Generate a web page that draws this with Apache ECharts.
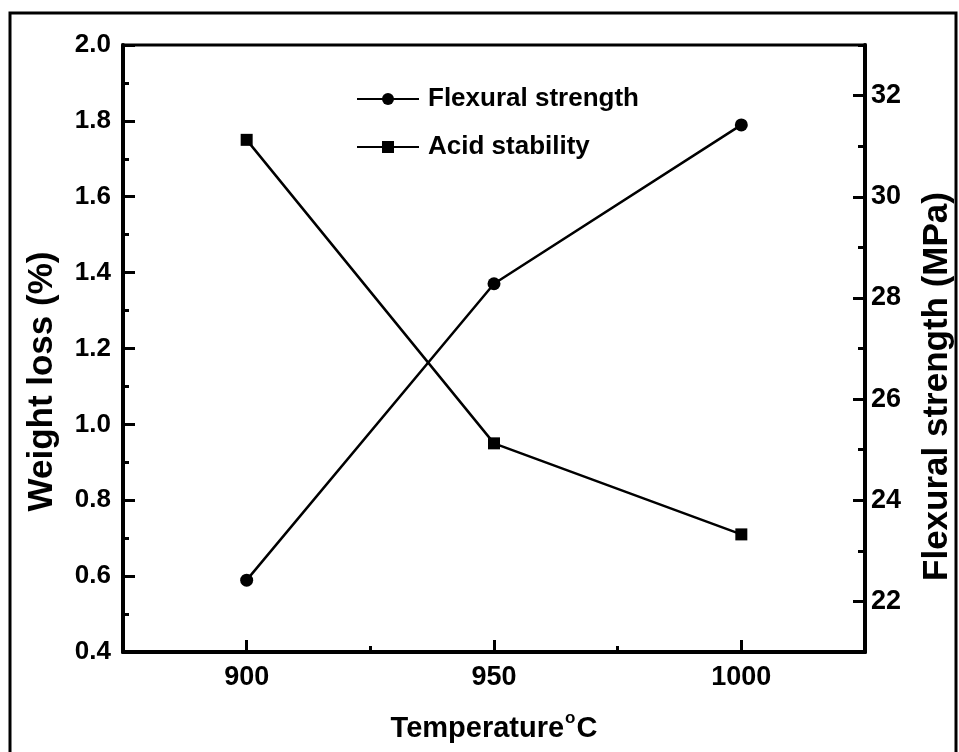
<!DOCTYPE html>
<html>
<head>
<meta charset="utf-8">
<script src="https://cdn.jsdelivr.net/npm/echarts@6/dist/echarts.min.js"></script>
<style>
  html, body { margin: 0; padding: 0; background: #fff; }
  #chart { width: 959px; height: 752px; }
</style>
</head>
<body>
<div id="chart"></div>
<script>
// temperatures (x), °C
const temperatures = [900, 950, 1000]
// acid stability -> weight loss (%), left axis
const weightLoss = [1.75, 0.95, 0.71]
// flexural strength (MPa), right axis
const flexural = [22.42, 28.28, 31.42]

const xTickLabels = [900, 950, 1000]
const xMinorTicks = [925, 975]
const rightTickLabels = [22, 24, 26, 28, 30, 32]
const rightMinorTicks = [21, 23, 25, 27, 29, 31, 33]

const font = 'Liberation Sans, Arial, Helvetica, sans-serif'
const black = '#000'

const chart = echarts.init(document.getElementById('chart'))

const toPairs = (xs, ys) => xs.map((x, i) => [x, ys[i]])

chart.setOption({
  animation: false,
  backgroundColor: '#fff',
  textStyle: { fontFamily: font, color: black, fontWeight: 'bold' },
  grid: {
    left: 123,
    right: 94,
    top: 45,
    bottom: 100,
    outerBoundsMode: 'none',
    show: true,
    borderColor: black,
    borderWidth: 3,
  },
  legend: {
    orient: 'vertical',
    left: 356,
    top: 85,
    padding: 0,
    itemWidth: 62,
    itemHeight: 15,
    itemGap: 20,
    textStyle: {
      fontFamily: font,
      fontWeight: 'bold',
      fontSize: 26,
      color: black,
      lineHeight: 28,
      padding: [0, 0, 0, 4],
    },
    data: ['Flexural strength', 'Acid stability'],
  },
  xAxis: [
    {
      type: 'value',
      min: 875,
      max: 1025,
      position: 'bottom',
      splitLine: { show: false },
      axisLine: { lineStyle: { color: black, width: 4 } },
      axisTick: {
        inside: true,
        length: 12,
        customValues: xTickLabels,
        lineStyle: { color: black, width: 3 },
      },
      axisLabel: {
        customValues: xTickLabels,
        margin: 12,
        fontSize: 27,
        fontWeight: 'bold',
        fontFamily: font,
        color: black,
        formatter: (v) => String(v),
      },
      name: '{a|Temperature}{s|o}{a|C}',
      nameLocation: 'middle',
      nameGap: 58,
      nameTextStyle: {
        rich: {
          a: { fontSize: 29, fontWeight: 'bold', fontFamily: font, color: black },
          s: { fontSize: 17, fontWeight: 'bold', fontFamily: font, color: black, verticalAlign: 'top', padding: [0, 1, 20, 1] },
        },
      },
    },
    {
      // minor ticks on the bottom axis
      type: 'value',
      min: 875,
      max: 1025,
      position: 'bottom',
      splitLine: { show: false },
      axisLine: { show: false },
      axisLabel: { show: false },
      axisTick: {
        inside: true,
        length: 6,
        customValues: xMinorTicks,
        lineStyle: { color: black, width: 3 },
      },
    },
  ],
  yAxis: [
    {
      type: 'value',
      position: 'left',
      min: 0.4,
      max: 2.0,
      interval: 0.2,
      splitLine: { show: false },
      axisLine: { show: true, lineStyle: { color: black, width: 4 } },
      axisTick: { inside: true, length: 12, lineStyle: { color: black, width: 3 } },
      minorTick: { show: true, splitNumber: 2, length: 6, lineStyle: { color: black, width: 3 } },
      axisLabel: {
        margin: 12,
        fontSize: 26,
        fontWeight: 'bold',
        fontFamily: font,
        color: black,
        formatter: (v) => v.toFixed(1),
      },
      name: 'Weight loss (%)',
      nameLocation: 'middle',
      nameRotate: 90,
      nameGap: 63,
      nameTextStyle: {
        fontSize: 35,
        fontWeight: 'bold',
        fontFamily: font,
        color: black,
        padding: [0, 66, 0, 0],
      },
    },
    {
      type: 'value',
      position: 'right',
      min: 21,
      max: 33,
      splitLine: { show: false },
      axisLine: { show: true, lineStyle: { color: black, width: 4 } },
      axisTick: {
        inside: true,
        length: 12,
        customValues: rightTickLabels,
        lineStyle: { color: black, width: 3 },
      },
      axisLabel: {
        customValues: rightTickLabels,
        margin: 6,
        fontSize: 27,
        fontWeight: 'bold',
        fontFamily: font,
        color: black,
      },
      name: 'Flexural strength (MPa)',
      nameLocation: 'middle',
      nameRotate: 90,
      nameGap: 55,
      nameTextStyle: {
        fontSize: 35,
        fontWeight: 'bold',
        fontFamily: font,
        color: black,
        padding: [0, 76, 0, 0],
      },
    },
    {
      // minor ticks on the right axis
      type: 'value',
      position: 'right',
      min: 21,
      max: 33,
      splitLine: { show: false },
      axisLine: { show: false },
      axisLabel: { show: false },
      axisTick: {
        inside: true,
        length: 7,
        customValues: rightMinorTicks,
        lineStyle: { color: black, width: 3 },
      },
    },
  ],
  series: [
    {
      name: 'Flexural strength',
      type: 'line',
      xAxisIndex: 0,
      yAxisIndex: 1,
      data: toPairs(temperatures, flexural),
      symbol: 'circle',
      symbolSize: 13,
      lineStyle: { color: black, width: 2.5 },
      itemStyle: { color: black },
    },
    {
      name: 'Acid stability',
      type: 'line',
      xAxisIndex: 0,
      yAxisIndex: 0,
      data: toPairs(temperatures, weightLoss),
      symbol: 'rect',
      symbolSize: 12,
      lineStyle: { color: black, width: 2.5 },
      itemStyle: { color: black },
    },
  ],
  graphic: [
    {
      type: 'rect',
      silent: true,
      shape: { x: 10, y: 13, width: 946, height: 760 },
      style: { fill: 'none', stroke: black, lineWidth: 3 },
    },
  ],
})
</script>
</body>
</html>
